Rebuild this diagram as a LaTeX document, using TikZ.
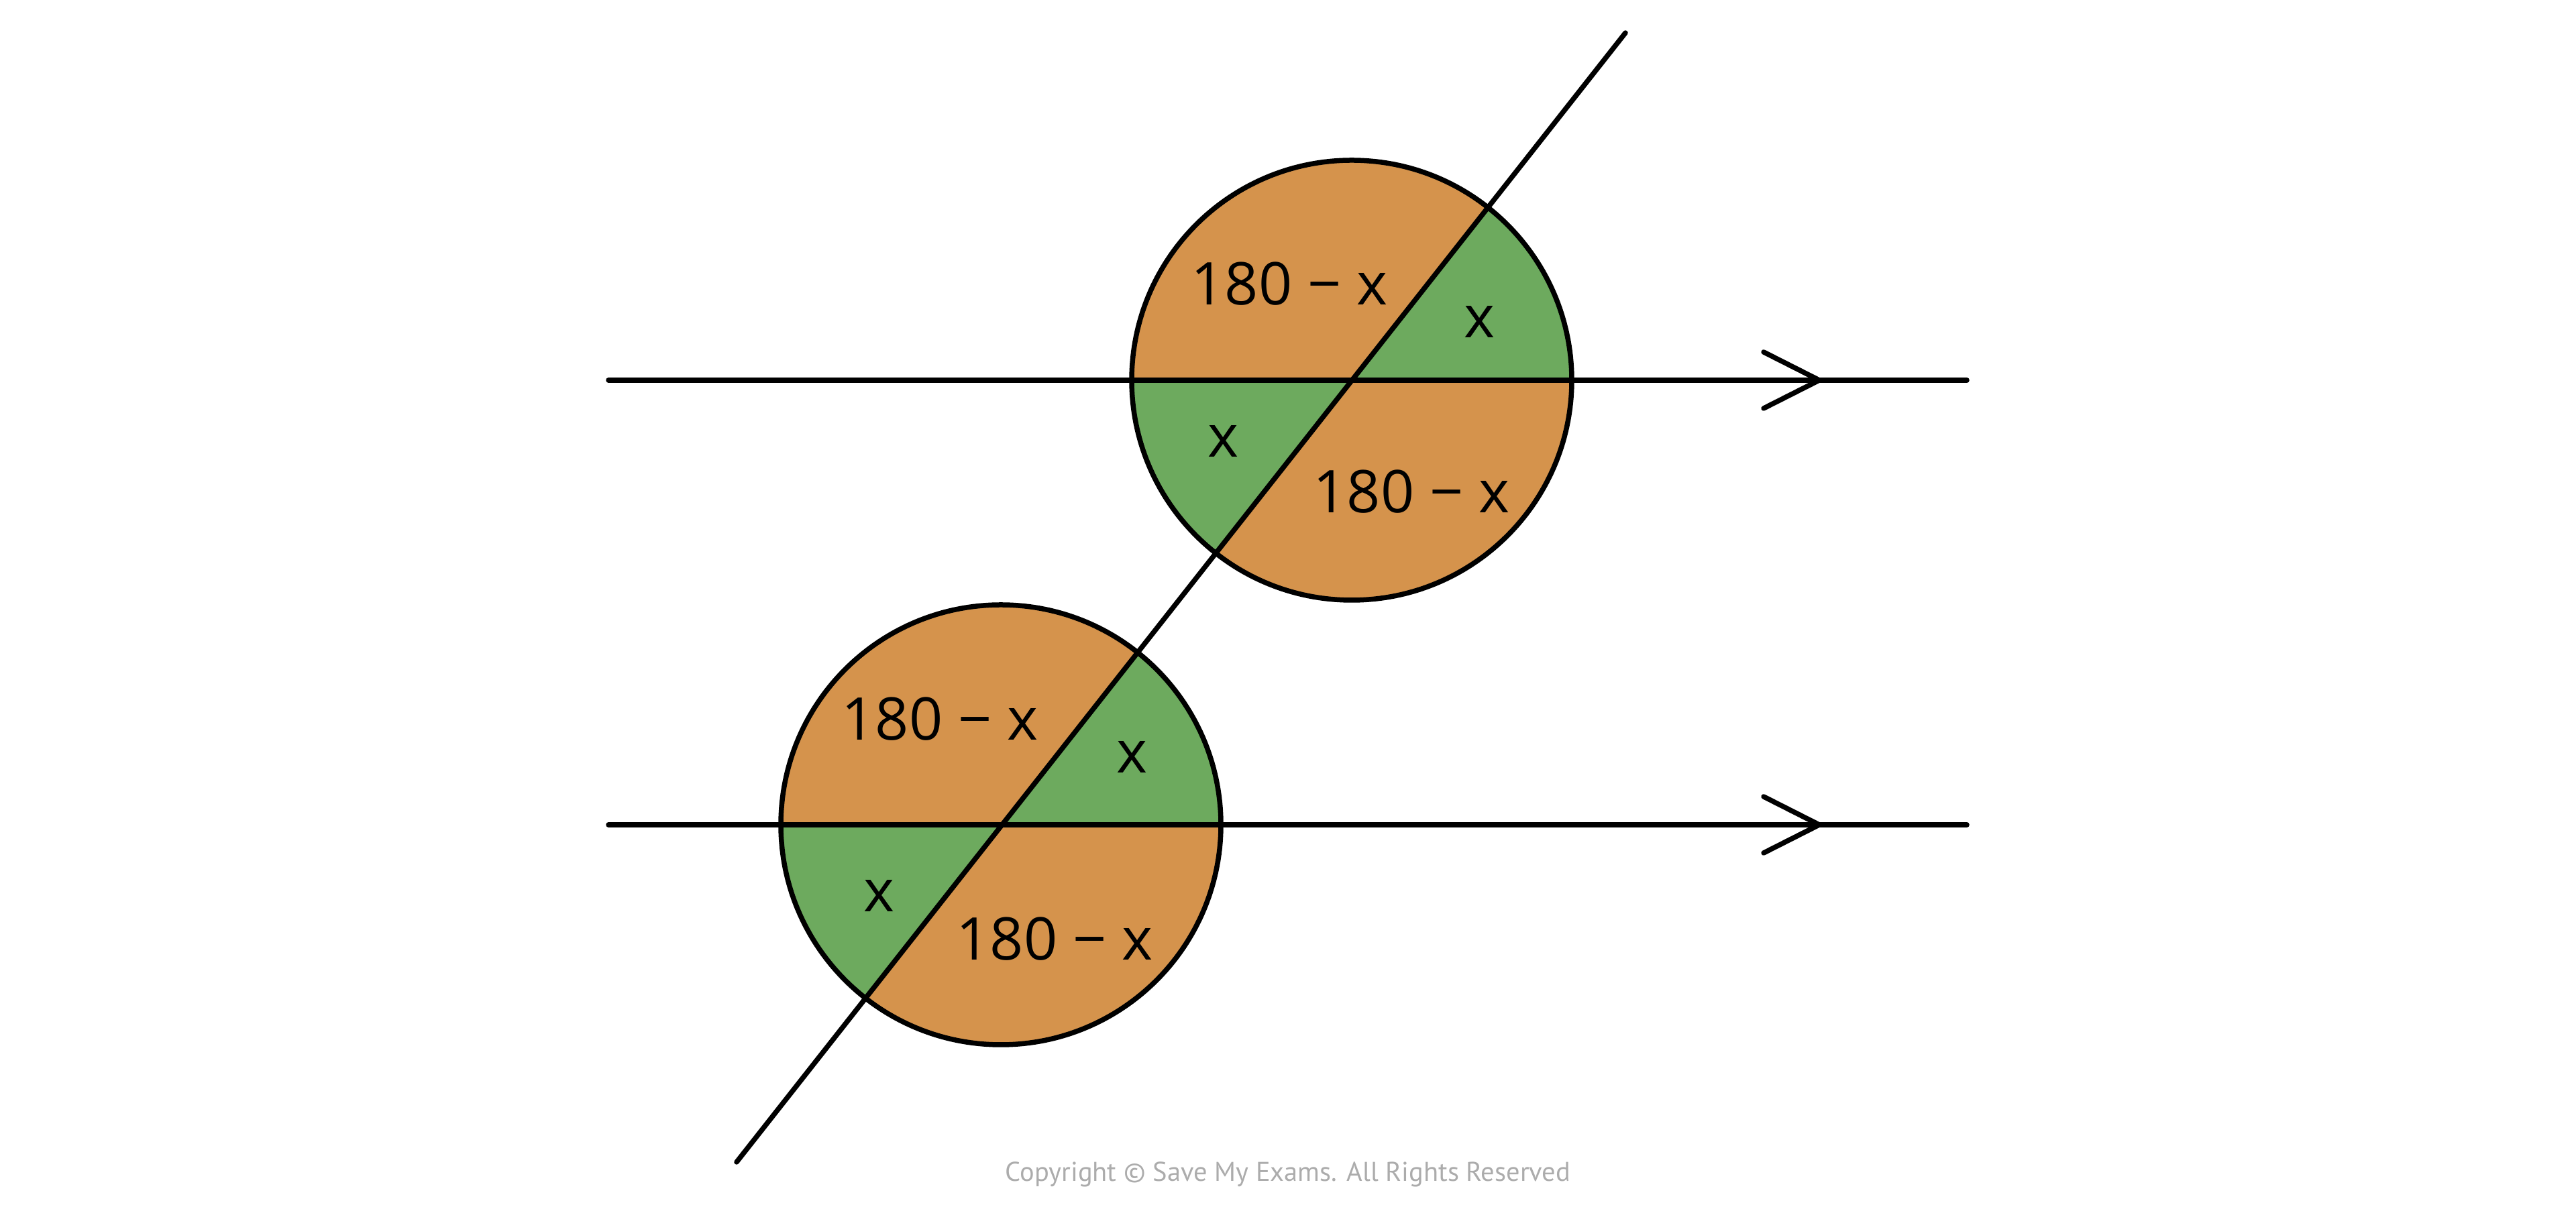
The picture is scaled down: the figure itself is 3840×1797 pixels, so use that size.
\documentclass[tikz,border=0pt]{standalone}
\usepackage{fontspec}
\setmainfont{Open Sans}
\newfontfamily\cpfont{PT Sans}
\definecolor{angorange}{RGB}{213,147,76}
\definecolor{anggreen}{RGB}{109,170,94}
\definecolor{cpgray}{RGB}{172,172,172}
\begin{document}
\begin{tikzpicture}[x=0.1mm,y=0.1mm,
  ink/.style={line width=0.75mm, line cap=round, line join=round, draw=black},
  ring/.style={circle, ink, minimum size=65.6mm, inner sep=0pt, outer sep=0pt},
  lbl/.style={font=\fontsize{25}{29}\selectfont, inner sep=0pt},
  cptext/.style={font=\cpfont\fontsize{11.5}{13}\selectfont, text=cpgray, inner sep=0pt}]
\useasboundingbox (0,0) rectangle (3840,1797);
\def\R{328}
\def\T{51.8}
% centres
\coordinate (C1) at (2015,1230);
\coordinate (C2) at (1492,567);
% sector fills
\foreach \c in {C1,C2}{
  \fill[anggreen] (\c) -- ++(0:\R) arc[start angle=0, end angle=\T, radius=\R] -- cycle;
  \fill[angorange] (\c) -- ++(\T:\R) arc[start angle=\T, end angle=180, radius=\R] -- cycle;
  \fill[anggreen] (\c) -- ++(180:\R) arc[start angle=180, end angle=180+\T, radius=\R] -- cycle;
  \fill[angorange] (\c) -- ++(180+\T:\R) arc[start angle=180+\T, end angle=360, radius=\R] -- cycle;
}
% line end points
\coordinate (L1a) at (907,1230);
\coordinate (L1b) at (2932,1230);
\coordinate (L2a) at (907,567);
\coordinate (L2b) at (2932,567);
\coordinate (Ta) at (1098,64);
\coordinate (Tb) at (2423,1748);
% arrow marks
\coordinate (A1) at (2712,1230);
\coordinate (A1u) at (2629,1272);
\coordinate (A1d) at (2629,1188);
\coordinate (A2) at (2712,567);
\coordinate (A2u) at (2629,609);
\coordinate (A2d) at (2629,525);
% lines
\draw[ink] (L1a) -- (L1b);
\draw[ink] (L2a) -- (L2b);
\draw[ink] (Ta) -- (Tb);
\draw[ink] (A1u) -- (A1) -- (A1d);
\draw[ink] (A2u) -- (A2) -- (A2d);
% circle outlines
\node[ring] (k1) at (C1) {};
\node[ring] (k2) at (C2) {};
% labels top circle
\node[lbl] (t1) at (1922,1374) {180 − x};
\node[lbl] (t2) at (2205,1317) {x};
\node[lbl] (t3) at (1824,1139) {x};
\node[lbl] (t4) at (2104,1064) {180 − x};
% labels bottom circle
\node[lbl] (b1) at (1401,725) {180 − x};
\node[lbl] (b2) at (1688,668) {x};
\node[lbl] (b3) at (1311,461) {x};
\node[lbl] (b4) at (1572,397) {180 − x};
% copyright
\node[cptext] (cp) at (1920,46) {Copyright © Save My Exams. All Rights Reserved};
\end{tikzpicture}
\end{document}
